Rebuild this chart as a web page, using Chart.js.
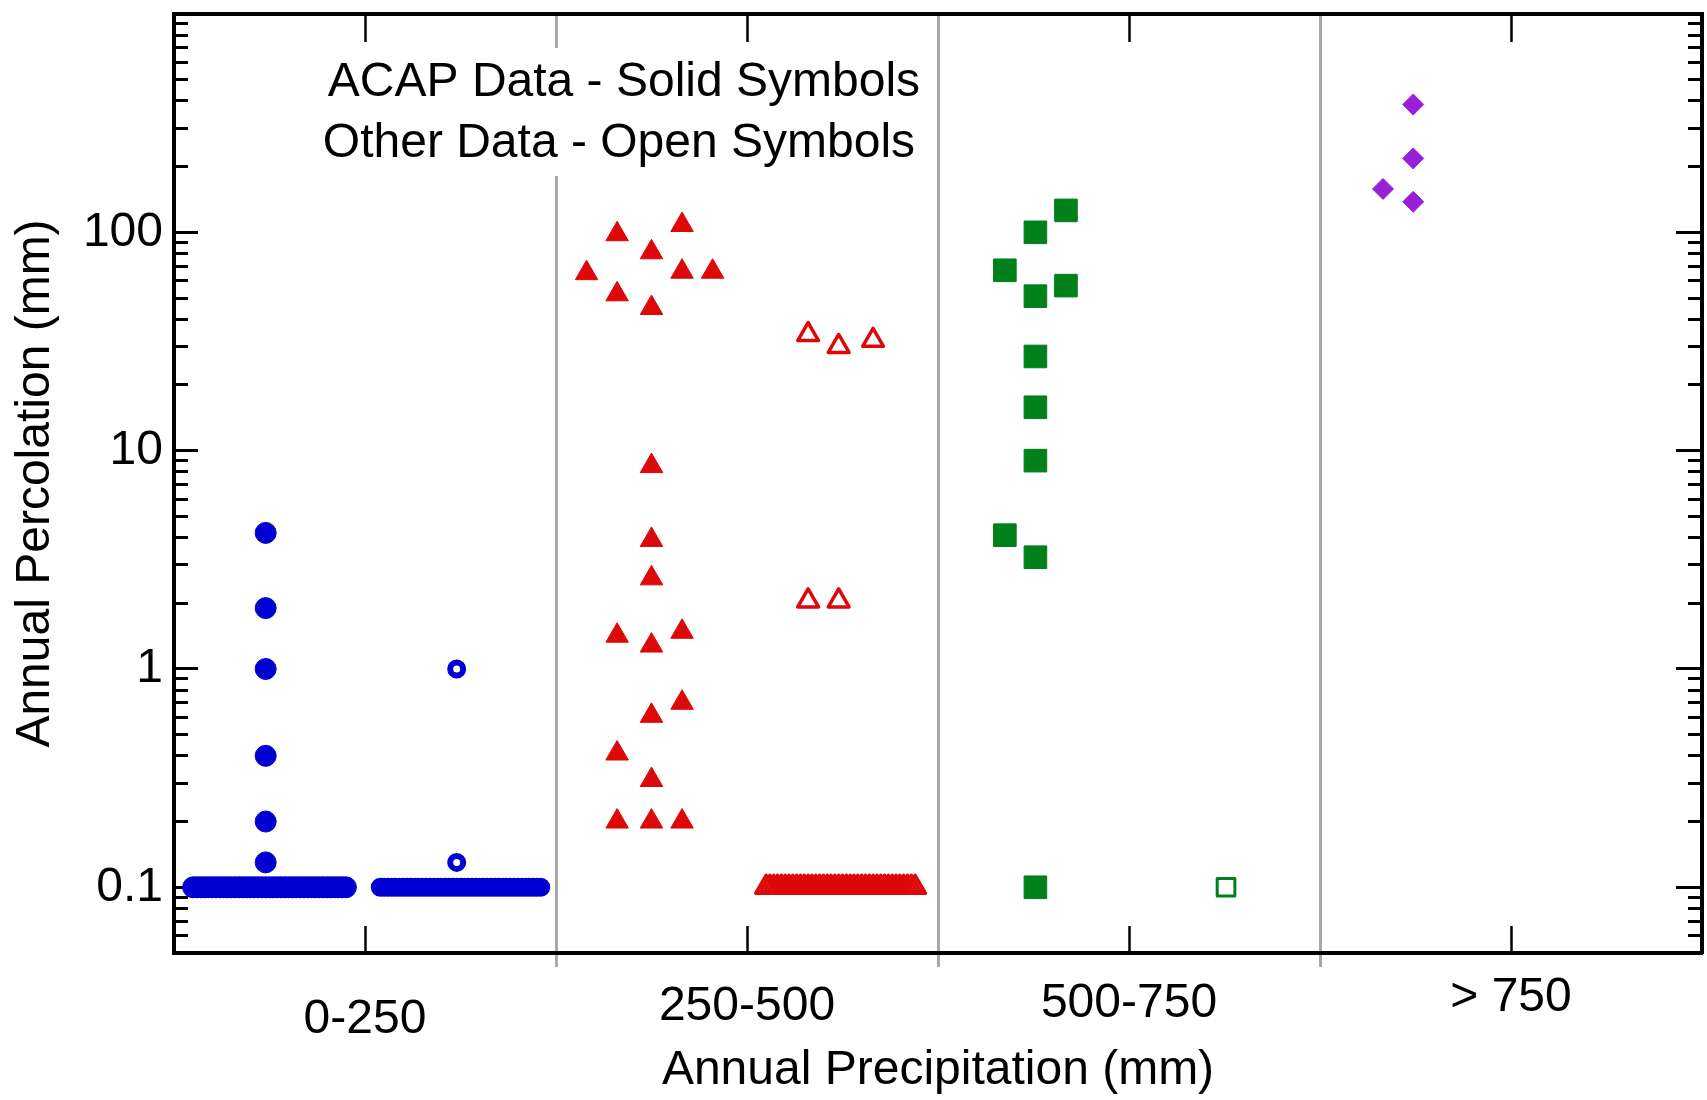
<!DOCTYPE html>
<html>
<head>
<meta charset="utf-8">
<script src="https://cdn.jsdelivr.net/npm/chart.js@4"></script>
<style>
  html,body{margin:0;padding:0;background:#fff;}
  #wrap{width:1707px;height:1100px;}
</style>
</head>
<body>
<div id="wrap"><canvas id="chart" width="1707" height="1100"></canvas></div>
<script>
/* ========= DATA ========= */
const categories = ["0-250","250-500","500-750","> 750"];
const catTicks   = [0.5,1.5,2.5,3.5];
const separators = [1,2,3];
const yMajorTicks = [0.1,1,10,100];
const yMinorTicks = [0.06,0.07,0.08,0.09,0.2,0.3,0.4,0.5,0.6,0.7,0.8,0.9,
                     2,3,4,5,6,7,8,9,20,30,40,50,60,70,80,90,200,300,400,500,600,700,800,900];

// 0-250 mm
const acapLowX  = [0.24,0.24,0.24,0.24,0.24,0.24,
                   0.05,0.06,0.07,0.08,0.09,0.10,0.11,0.12,0.13,0.14,0.15,0.16,0.17,0.18,
                   0.19,0.20,0.21,0.22,0.23,0.24,0.25,0.26,0.27,0.28,0.29,0.30,0.31,0.32,
                   0.33,0.34,0.35,0.36,0.37,0.38,0.39,0.40,0.41,0.42,0.43,0.44,0.45];
const acapLowY  = [4.2,1.9,1.0,0.4,0.2,0.13,
                   0.1,0.1,0.1,0.1,0.1,0.1,0.1,0.1,0.1,0.1,0.1,0.1,0.1,0.1,
                   0.1,0.1,0.1,0.1,0.1,0.1,0.1,0.1,0.1,0.1,0.1,0.1,0.1,0.1,
                   0.1,0.1,0.1,0.1,0.1,0.1,0.1,0.1,0.1,0.1,0.1,0.1,0.1];
const otherLowX = [0.74,0.74,
                   0.54,0.55,0.56,0.57,0.58,0.59,0.60,0.61,0.62,0.63,0.64,0.65,0.66,0.67,
                   0.68,0.69,0.70,0.71,0.72,0.73,0.74,0.75,0.76,0.77,0.78,0.79,0.80,0.81,
                   0.82,0.83,0.84,0.85,0.86,0.87,0.88,0.89,0.90,0.91,0.92,0.93,0.94,0.95,0.96];
const otherLowY = [1.0,0.13,
                   0.1,0.1,0.1,0.1,0.1,0.1,0.1,0.1,0.1,0.1,0.1,0.1,0.1,0.1,
                   0.1,0.1,0.1,0.1,0.1,0.1,0.1,0.1,0.1,0.1,0.1,0.1,0.1,0.1,
                   0.1,0.1,0.1,0.1,0.1,0.1,0.1,0.1,0.1,0.1,0.1,0.1,0.1,0.1,0.1];

// 250-500 mm
const acapMidX  = [1.08,1.16,1.16,1.25,1.25,1.33,1.33,1.41,
                   1.25,1.25,1.25,1.16,1.25,1.33,1.25,1.33,1.16,1.25,1.16,1.25,1.33];
const acapMidY  = [65,98,52,81,45,108,66,66,
                   8.5,3.9,2.6,1.42,1.28,1.48,0.61,0.70,0.41,0.31,0.2,0.2,0.2];
const otherMidX = [1.66,1.74,1.83,1.66,1.74,
                   1.55,1.56,1.57,1.58,1.59,1.60,1.61,1.62,1.63,1.64,
                   1.65,1.66,1.67,1.68,1.69,1.70,1.71,1.72,1.73,1.74,
                   1.75,1.76,1.77,1.78,1.79,1.80,1.81,1.82,1.83,1.84,
                   1.85,1.86,1.87,1.88,1.89,1.90,1.91,1.92,1.93,1.94];
const otherMidY = [34,30,32,2.05,2.05,
                   0.1,0.1,0.1,0.1,0.1,0.1,0.1,0.1,0.1,0.1,
                   0.1,0.1,0.1,0.1,0.1,0.1,0.1,0.1,0.1,0.1,
                   0.1,0.1,0.1,0.1,0.1,0.1,0.1,0.1,0.1,0.1,
                   0.1,0.1,0.1,0.1,0.1,0.1,0.1,0.1,0.1,0.1];

// 500-750 mm
const acapHighX  = [2.175,2.255,2.335,2.255,2.335,2.255,2.255,2.255,2.175,2.255,2.255];
const acapHighY  = [67,100,126,51,57,27,15.8,9.0,4.1,3.25,0.1];
const otherHighX = [2.754];
const otherHighY = [0.1];

// > 750 mm
const acapTopX = [3.244,3.244,3.165,3.244];
const acapTopY = [385,218,158,138];

const noteLines = ["ACAP Data - Solid Symbols","Other Data - Open Symbols"];

/* ========= STYLE ========= */
const FONT   = "'Liberation Sans', Arial, Helvetica, sans-serif";
const BLUE   = "#0000d0";
const RED    = "#dd0808";
const GREEN  = "#00801a";
const PURPLE = "#9a20d8";
const SEP    = "#a8a8a8";
const font48 = {family: FONT, size: 48};
const catLineHeights = ["108px","82px","76px","64px"];   // staggers the category labels

function pts(xs, ys){ return xs.map((x,i)=>({x, y: ys[i]})); }
function setTicks(vals){ return s => { s.ticks = vals.map(v => ({value: v})); }; }
function fix(w, h){
  return s => {
    if (w !== null) s.width = w;
    if (h !== null) s.height = h;
    s.paddingTop = s.paddingBottom = s.paddingLeft = s.paddingRight = 0;
  };
}

/* ========= PLUGINS ========= */
const roundJoin = {
  id: "roundJoin",
  beforeDatasetsDraw(chart){ chart.ctx.lineJoin = "round"; }
};

const note = {
  id: "note",
  afterDatasetsDraw(chart){
    const {ctx, chartArea, scales: {x}} = chart;
    const cx = x.getPixelForValue(1.17);
    const b1 = chartArea.top + 82, b2 = chartArea.top + 143;
    ctx.save();
    ctx.font = `48px ${FONT}`;
    const w = Math.max(...noteLines.map(t => ctx.measureText(t).width));
    ctx.fillStyle = "#fff";
    ctx.fillRect(cx - w/2 - 6, b1 - 48, w + 12, b2 - b1 + 67);
    ctx.fillStyle = "#000";
    ctx.textAlign = "center";
    ctx.textBaseline = "alphabetic";
    ctx.fillText(noteLines[0], cx + 3, b1);
    ctx.fillText(noteLines[1], cx - 2, b2);
    ctx.restore();
  }
};

/* ========= CHART ========= */
new Chart(document.getElementById("chart"), {
  type: "scatter",
  data: {
    datasets: [
      {data: pts(acapLowX, acapLowY), pointStyle: "circle", pointRadius: 10.5,
       backgroundColor: BLUE, borderColor: BLUE, borderWidth: 1},
      {data: pts(otherLowX, otherLowY), pointStyle: "circle", pointRadius: 6.5,
       backgroundColor: "rgba(0,0,0,0)", borderColor: BLUE, borderWidth: 6},
      {data: pts(acapMidX, acapMidY), pointStyle: "triangle", pointRadius: 13,
       backgroundColor: RED, borderColor: RED, borderWidth: 1},
      {data: pts(otherMidX, otherMidY), pointStyle: "triangle", pointRadius: 12,
       backgroundColor: "rgba(0,0,0,0)", borderColor: RED, borderWidth: 3.5},
      {data: pts(acapHighX, acapHighY), pointStyle: "rect", pointRadius: 16,
       backgroundColor: GREEN, borderColor: GREEN, borderWidth: 1},
      {data: pts(otherHighX, otherHighY), pointStyle: "rect", pointRadius: 12.5,
       backgroundColor: "rgba(0,0,0,0)", borderColor: GREEN, borderWidth: 3},
      {data: pts(acapTopX, acapTopY), pointStyle: "rectRot", pointRadius: 10.5,
       backgroundColor: PURPLE, borderColor: PURPLE, borderWidth: 1}
    ]
  },
  options: {
    responsive: false,
    animation: false,
    devicePixelRatio: 1,
    events: [],
    layout: {padding: 0, autoPadding: false},
    plugins: {legend: {display: false}, tooltip: {enabled: false}},
    scales: {
      x: {
        type: "linear", position: "bottom", weight: 1, min: 0, max: 4,
        afterBuildTicks: setTicks(catTicks),
        afterFit: fix(null, 147),
        ticks: {callback: (v, i) => categories[i],
                font: c => ({family: FONT, size: 48, lineHeight: catLineHeights[c.index]}),
                color: "#000", padding: 40, autoSkip: false, maxRotation: 0},
        grid: {drawOnChartArea: false, tickLength: -27, tickWidth: 2.5, tickColor: "#000"},
        border: {color: "#000", width: 4},
        title: {display: true, text: "Annual Precipitation (mm)", font: font48,
                color: "#000", padding: 0}
      },
      xSep: {
        type: "linear", position: "bottom", weight: 0, min: 0, max: 4,
        afterBuildTicks: setTicks(separators),
        afterFit: fix(null, 0),
        ticks: {display: false},
        grid: {color: SEP, lineWidth: 3, tickLength: 14, tickColor: SEP, tickWidth: 3},
        border: {display: false}
      },
      x2: {
        type: "linear", position: "top", min: 0, max: 4,
        afterBuildTicks: setTicks(catTicks),
        afterFit: fix(null, 14),
        ticks: {display: false},
        grid: {drawOnChartArea: false, tickLength: -28, tickWidth: 2.5, tickColor: "#000"},
        border: {color: "#000", width: 4}
      },
      y: {
        type: "logarithmic", position: "left", weight: 1, min: 0.05, max: 1000,
        afterBuildTicks: setTicks(yMajorTicks),
        afterFit: fix(174, null),
        ticks: {callback: v => String(v), font: font48, color: "#000", padding: 35},
        grid: {drawOnChartArea: false, tickLength: -24, tickWidth: 3, tickColor: "#000"},
        border: {color: "#000", width: 4},
        title: {display: true, text: "Annual Percolation (mm)", font: font48,
                color: "#000", padding: {top: 7, bottom: 0}}
      },
      yMin: {
        type: "logarithmic", position: "left", weight: 0, min: 0.05, max: 1000,
        afterBuildTicks: setTicks(yMinorTicks),
        afterFit: fix(0, null),
        ticks: {display: false},
        grid: {drawOnChartArea: false, tickLength: -14, tickWidth: 3, tickColor: "#000"},
        border: {display: false}
      },
      yR: {
        type: "logarithmic", position: "right", weight: 1, min: 0.05, max: 1000,
        afterBuildTicks: setTicks(yMajorTicks),
        afterFit: fix(5, null),
        ticks: {display: false},
        grid: {drawOnChartArea: false, tickLength: -26, tickWidth: 3, tickColor: "#000"},
        border: {color: "#000", width: 4}
      },
      yRMin: {
        type: "logarithmic", position: "right", weight: 0, min: 0.05, max: 1000,
        afterBuildTicks: setTicks(yMinorTicks),
        afterFit: fix(0, null),
        ticks: {display: false},
        grid: {drawOnChartArea: false, tickLength: -14, tickWidth: 3, tickColor: "#000"},
        border: {display: false}
      }
    }
  },
  plugins: [roundJoin, note]
});
</script>
</body>
</html>
